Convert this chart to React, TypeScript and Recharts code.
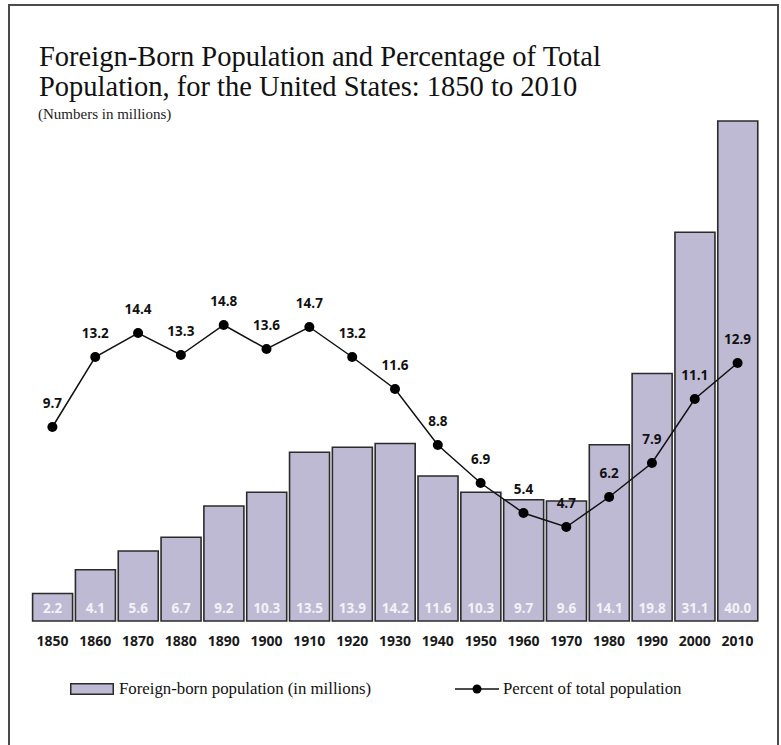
import React from 'react';
import { ComposedChart, Bar, Line, XAxis, YAxis, LabelList } from 'recharts';

const years = ['1850', '1860', '1870', '1880', '1890', '1900', '1910', '1920', '1930', '1940', '1950', '1960', '1970', '1980', '1990', '2000', '2010'];
const foreignBorn = [2.2, 4.1, 5.6, 6.7, 9.2, 10.3, 13.5, 13.9, 14.2, 11.6, 10.3, 9.7, 9.6, 14.1, 19.8, 31.1, 40.0];
const percentOfTotal = [9.7, 13.2, 14.4, 13.3, 14.8, 13.6, 14.7, 13.2, 11.6, 8.8, 6.9, 5.4, 4.7, 6.2, 7.9, 11.1, 12.9];

const data = years.map((year, i) => ({
  year,
  population: foreignBorn[i],
  percent: percentOfTotal[i],
}));

const BAR_FILL = '#bebad3';
const DARK = '#2b2b2b';
const NUM_FONT = '"Open Sans", sans-serif';
const SERIF = '"Liberation Serif", "Times New Roman", serif';

function BarValue(props: any) {
  const { x, y, width, height, value } = props;
  return (
    <text
      x={x + width / 2}
      y={y + height - 8}
      textAnchor="middle"
      fill="#f3f2f7"
      fontFamily={NUM_FONT}
      fontWeight={700}
      fontSize={13.5}
    >
      {value.toFixed(1)}
    </text>
  );
}

function PointValue(props: any) {
  const { x, y, value } = props;
  return (
    <text
      x={x}
      y={y - 19}
      textAnchor="middle"
      fill="#111"
      fontFamily={NUM_FONT}
      fontWeight={700}
      fontSize={13.5}
    >
      {value.toFixed(1)}
    </text>
  );
}

function YearTick(props: any) {
  const { x, y, payload } = props;
  return (
    <text
      x={x}
      y={y + 17}
      textAnchor="middle"
      fill="#1a1a1a"
      fontFamily={NUM_FONT}
      fontWeight={700}
      fontSize={14}
    >
      {payload.value}
    </text>
  );
}

export default function App() {
  return (
    <div style={{ position: 'absolute', left: 0, top: 0, width: 781, height: 745, background: '#fff', overflow: 'hidden' }}>
      <div
        style={{
          position: 'absolute',
          left: 8,
          top: 4,
          width: 767,
          height: 760,
          border: '2px solid #4a4a4a',
        }}
      />
      <div
        style={{
          position: 'absolute',
          left: 39,
          top: 42,
          fontFamily: SERIF,
          fontSize: 28.5,
          lineHeight: '30px',
          color: '#111',
          whiteSpace: 'nowrap',
        }}
      >
        Foreign-Born Population and Percentage of Total
        <br />
        Population, for the United States: 1850 to 2010
      </div>
      <div
        style={{
          position: 'absolute',
          left: 38,
          top: 106,
          fontFamily: SERIF,
          fontSize: 15,
          lineHeight: '17px',
          color: '#222',
          whiteSpace: 'nowrap',
        }}
      >
        (Numbers in millions)
      </div>

      <div style={{ position: 'absolute', left: 0, top: 0 }}>
        <ComposedChart
          width={781}
          height={745}
          data={data}
          margin={{ top: 121, right: 22, bottom: 94, left: 31 }}
          barCategoryGap={1.6}
        >
          <XAxis
            dataKey="year"
            axisLine={false}
            tickLine={false}
            height={30}
            interval={0}
            tick={<YearTick />}
          />
          <YAxis yAxisId="pop" hide domain={[0, 40]} />
          <YAxis yAxisId="pct" hide domain={[0, 25]} orientation="right" />
          <Bar
            yAxisId="pop"
            dataKey="population"
            fill={BAR_FILL}
            stroke={DARK}
            strokeWidth={1.6}
            isAnimationActive={false}
          >
            <LabelList dataKey="population" content={<BarValue />} />
          </Bar>
          <Line
            yAxisId="pct"
            dataKey="percent"
            stroke="#111"
            strokeWidth={1.5}
            dot={{ r: 5, fill: '#000', stroke: '#000', strokeWidth: 0 }}
            activeDot={false}
            isAnimationActive={false}
          >
            <LabelList dataKey="percent" content={<PointValue />} />
          </Line>
        </ComposedChart>
      </div>

      <div style={{ position: 'absolute', left: 70, top: 679, display: 'flex', alignItems: 'center', fontFamily: SERIF, fontSize: 16.8, color: '#111', whiteSpace: 'nowrap' }}>
        <svg width={44} height={12} style={{ marginRight: 5 }}>
          <rect x={0.75} y={0.75} width={42.5} height={10.5} fill={BAR_FILL} stroke={DARK} strokeWidth={1.5} />
        </svg>
        <span>Foreign-born population (in millions)</span>
      </div>
      <div style={{ position: 'absolute', left: 455, top: 679, display: 'flex', alignItems: 'center', fontFamily: SERIF, fontSize: 16.8, color: '#111', whiteSpace: 'nowrap' }}>
        <svg width={44} height={12} style={{ marginRight: 4 }}>
          <line x1={0} y1={6} x2={44} y2={6} stroke="#111" strokeWidth={1.5} />
          <circle cx={22} cy={6} r={4.5} fill="#000" />
        </svg>
        <span>Percent of total population</span>
      </div>
    </div>
  );
}
